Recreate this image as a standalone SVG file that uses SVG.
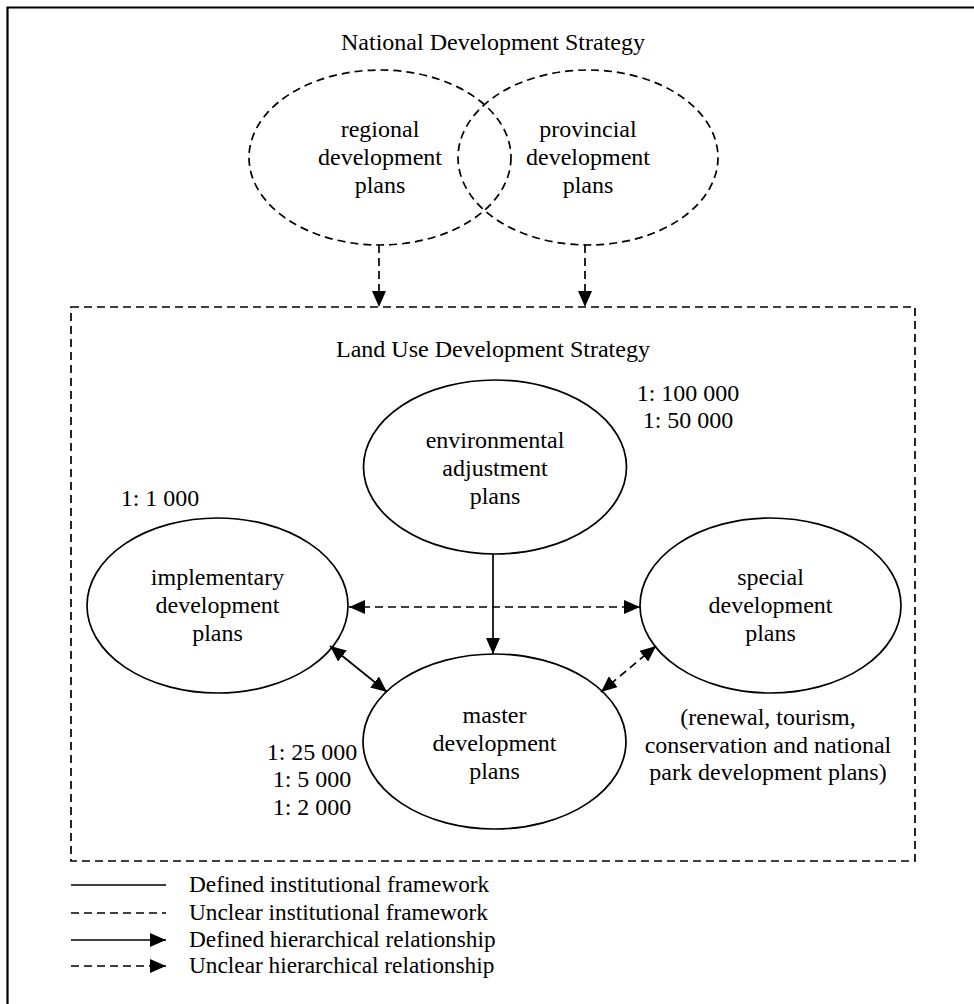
<svg xmlns="http://www.w3.org/2000/svg" width="974" height="1004" viewBox="0 0 974 1004">
<style>
text{font-family:"Liberation Serif","Times New Roman",serif;font-size:24px;fill:#000}
.c{text-anchor:middle}
.l{font-size:23.3px}
.s{fill:none;stroke:#000;stroke-width:1.7}
.d{fill:none;stroke:#000;stroke-width:1.7;stroke-dasharray:8 5}
</style>
<defs>
<marker id="ah" markerUnits="userSpaceOnUse" markerWidth="16" markerHeight="14" viewBox="0 0 16 14" refX="16" refY="7" orient="auto-start-reverse">
<path d="M0,0 L16,7 L0,14 Z" fill="#000"/>
</marker>
</defs>
<rect width="974" height="1004" fill="#fff"/>
<path d="M7.5,1004 V7.5 H974" fill="none" stroke="#000" stroke-width="2.2"/>

<g id="national">
<text class="c" x="493" y="50">National Development Strategy</text>
</g>
<g id="regional">
<ellipse class="d" cx="380" cy="157.5" rx="131" ry="87.5"/>
<text class="c" x="380" y="137">regional</text>
<text class="c" x="380" y="165">development</text>
<text class="c" x="380" y="193">plans</text>
</g>
<g id="provincial">
<ellipse class="d" cx="588" cy="157.5" rx="130" ry="87.5"/>
<text class="c" x="588" y="137">provincial</text>
<text class="c" x="588" y="165">development</text>
<text class="c" x="588" y="193">plans</text>
</g>

<g id="landuse">
<rect class="d" x="71" y="307" width="844" height="554"/>
<text class="c" x="493" y="357">Land Use Development Strategy</text>
</g>

<g id="environmental">
<ellipse class="s" cx="495" cy="467" rx="131.5" ry="87"/>
<text class="c" x="495" y="448">environmental</text>
<text class="c" x="495" y="476">adjustment</text>
<text class="c" x="495" y="504">plans</text>
<text class="c" x="688" y="401">1: 100 000</text>
<text class="c" x="688" y="428">1: 50 000</text>
</g>

<g id="implementary">
<ellipse class="s" cx="217.5" cy="605.5" rx="130.5" ry="87.5"/>
<text class="c" x="217.5" y="585">implementary</text>
<text class="c" x="217.5" y="613">development</text>
<text class="c" x="217.5" y="641">plans</text>
<text class="c" x="160" y="506">1: 1 000</text>
</g>

<g id="special">
<ellipse class="s" cx="770.5" cy="605.5" rx="130.5" ry="87.5"/>
<text class="c" x="770.5" y="585">special</text>
<text class="c" x="770.5" y="613">development</text>
<text class="c" x="770.5" y="641">plans</text>
<text class="c" x="768" y="725">(renewal, tourism,</text>
<text class="c" x="768" y="753">conservation and national</text>
<text class="c" x="768" y="780">park development plans)</text>
</g>

<g id="master">
<ellipse class="s" cx="494.5" cy="741.5" rx="131.5" ry="87.5"/>
<text class="c" x="494.5" y="723">master</text>
<text class="c" x="494.5" y="751">development</text>
<text class="c" x="494.5" y="779">plans</text>
<text class="c" x="312" y="760">1: 25 000</text>
<text class="c" x="312" y="787">1: 5 000</text>
<text class="c" x="312" y="815">1: 2 000</text>
</g>

<g id="connectors">
<line class="d" x1="379" y1="245" x2="379" y2="307" marker-end="url(#ah)"/>
<line class="d" x1="585" y1="245" x2="585" y2="307" marker-end="url(#ah)"/>
<line class="s" x1="493" y1="554" x2="493" y2="654" marker-end="url(#ah)"/>
<line class="d" x1="349" y1="607" x2="640" y2="607" marker-start="url(#ah)" marker-end="url(#ah)"/>
<line class="s" x1="330" y1="646" x2="387" y2="692" marker-start="url(#ah)" marker-end="url(#ah)"/>
<line class="d" x1="656" y1="646" x2="601" y2="692" marker-start="url(#ah)" marker-end="url(#ah)"/>
</g>

<g id="legend">
<line class="s" x1="71" y1="885" x2="166" y2="885"/>
<line class="d" x1="71" y1="913" x2="166" y2="913" stroke-dasharray="7 6"/>
<line class="s" x1="71" y1="940" x2="166" y2="940" marker-end="url(#ah)"/>
<line class="d" x1="71" y1="966" x2="166" y2="966" stroke-dasharray="7 6" marker-end="url(#ah)"/>
<text class="l" x="189" y="892">Defined institutional framework</text>
<text class="l" x="189" y="920">Unclear institutional framework</text>
<text class="l" x="189" y="947">Defined hierarchical relationship</text>
<text class="l" x="189" y="973">Unclear hierarchical relationship</text>
</g>
</svg>
